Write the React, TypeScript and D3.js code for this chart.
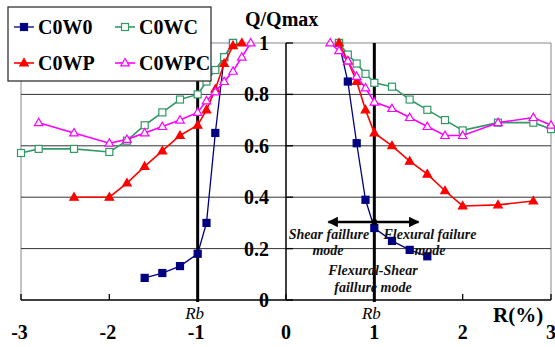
import React from "react";
import * as d3 from "d3";

// ---- data ----
const seriesNames = ["C0W0", "C0WC", "C0WP", "C0WPC"];

const w0LeftR = [-1.6, -1.4, -1.2, -1.0, -0.9, -0.8, -0.7, -0.6];
const w0LeftQ = [0.086, 0.105, 0.132, 0.18, 0.3, 0.65, 0.945, 1.0];
const w0RightR = [0.6, 0.7, 0.8, 0.9, 1.0, 1.2, 1.4, 1.6];
const w0RightQ = [1.0, 0.85, 0.61, 0.39, 0.28, 0.23, 0.195, 0.17];

const wcLeftR = [-3.0, -2.8, -2.4, -2.0, -1.8, -1.6, -1.4, -1.2, -1.0, -0.9, -0.8, -0.7, -0.6];
const wcLeftQ = [0.572, 0.588, 0.588, 0.576, 0.62, 0.68, 0.73, 0.78, 0.8, 0.85, 0.895, 0.945, 1.0];
const wcRightR = [0.6, 0.7, 0.8, 0.9, 1.0, 1.2, 1.4, 1.6, 1.8, 2.0, 2.4, 2.8, 3.0];
const wcRightQ = [1.0, 0.955, 0.92, 0.88, 0.845, 0.83, 0.78, 0.74, 0.7, 0.66, 0.69, 0.69, 0.665];

const wpLeftR = [-2.4, -2.0, -1.8, -1.6, -1.4, -1.2, -1.0, -0.9, -0.8, -0.7, -0.6, -0.5];
const wpLeftQ = [0.4, 0.4, 0.455, 0.52, 0.58, 0.64, 0.68, 0.74, 0.82, 0.92, 0.99, 1.0];
const wpRightR = [0.6, 0.7, 0.8, 0.9, 1.0, 1.2, 1.4, 1.6, 1.8, 2.0, 2.4, 2.8];
const wpRightQ = [1.0, 0.93, 0.85, 0.74, 0.65, 0.6, 0.54, 0.49, 0.425, 0.366, 0.37, 0.385];

const wpcLeftR = [-2.8, -2.4, -2.0, -1.8, -1.6, -1.4, -1.2, -1.0, -0.9, -0.8, -0.7, -0.6, -0.5, -0.4];
const wpcLeftQ = [0.69, 0.65, 0.61, 0.625, 0.65, 0.675, 0.7, 0.73, 0.775, 0.81, 0.85, 0.89, 0.945, 1.0];
const wpcRightR = [0.5, 0.6, 0.7, 0.8, 0.9, 1.0, 1.2, 1.4, 1.6, 1.8, 2.0, 2.4, 2.8, 3.0];
const wpcRightQ = [1.0, 0.97, 0.93, 0.87, 0.825, 0.77, 0.745, 0.71, 0.675, 0.64, 0.64, 0.69, 0.71, 0.68];

const xTicks = [-3, -2, -1, 0, 1, 2, 3];
const yTicks = [0, 0.2, 0.4, 0.6, 0.8, 1];
const rbValues = [-1, 1];

// ---- layout ----
const W = 555;
const H = 347;
const x = d3.scaleLinear().domain([-3, 3]).range([21, 551]);
const y = d3.scaleLinear().domain([0, 1]).range([300, 43]);

const zip = (rs: number[], qs: number[]) => rs.map((r, i) => [r, qs[i]] as [number, number]);

const series = [
  { name: seriesNames[0], color: "#000080", marker: "square", filled: true, width: 1.3, segs: [zip(w0LeftR, w0LeftQ), zip(w0RightR, w0RightQ)] },
  { name: seriesNames[1], color: "#339966", marker: "square", filled: false, width: 1.6, segs: [zip(wcLeftR, wcLeftQ), zip(wcRightR, wcRightQ)] },
  { name: seriesNames[2], color: "#FF0000", marker: "triangle", filled: true, width: 1.6, segs: [zip(wpLeftR, wpLeftQ), zip(wpRightR, wpRightQ)] },
  { name: seriesNames[3], color: "#FF00FF", marker: "triangle", filled: false, width: 1.6, segs: [zip(wpcLeftR, wpcLeftQ), zip(wpcRightR, wpcRightQ)] },
];

const line = d3.line<[number, number]>().x((d) => x(d[0])).y((d) => y(d[1]));

function Marker({ cx, cy, kind, filled, color }: any) {
  const fill = filled ? color : "white";
  if (kind === "square") {
    const s = 7;
    return <rect x={cx - s / 2} y={cy - s / 2} width={s} height={s} fill={fill} stroke={color} strokeWidth={1.2} />;
  }
  const s = 8.5;
  const h = s * 0.87;
  const pts = `${cx},${cy - h * 0.6} ${cx - s / 2},${cy + h * 0.4} ${cx + s / 2},${cy + h * 0.4}`;
  return <polygon points={pts} fill={fill} stroke={color} strokeWidth={1.2} />;
}

const SERIF = '"Liberation Serif", "DejaVu Serif", serif';

export default function App() {
  const plotL = x(-3);
  const plotR = x(3);
  const top = y(1);
  const bottom = y(0);
  const x0 = x(0);
  const arrowY = 222;
  return (
    <svg width={W} height={H} style={{ position: "absolute", left: 0, top: 0, background: "white", fontFamily: SERIF }}>
      <defs>
        <marker id="ah" viewBox="0 0 10 10" refX="9" refY="5" markerWidth="4.2" markerHeight="4.2" orient="auto-start-reverse">
          <path d="M0,0 L10,5 L0,10 z" fill="black" />
        </marker>
      </defs>
      <rect x={0} y={0} width={W} height={H} fill="white" />
      {/* plot border */}
      <line x1={plotL} x2={plotL} y1={top} y2={bottom} stroke="#888" strokeWidth={1} />
      <line x1={plotR} x2={plotR} y1={top} y2={bottom} stroke="#888" strokeWidth={1} />
      <line x1={plotL} x2={plotR} y1={top} y2={top} stroke="#888" strokeWidth={1} />
      {/* gridlines */}
      {yTicks.filter((t) => t > 0 && t < 1).map((t) => (
        <line key={t} x1={plotL} x2={plotR} y1={y(t)} y2={y(t)} stroke="#333" strokeWidth={1} />
      ))}
      {/* x axis */}
      <line x1={plotL} x2={plotR} y1={bottom} y2={bottom} stroke="black" strokeWidth={1.5} />
      {xTicks.map((t) => (
        <line key={t} x1={x(t)} x2={x(t)} y1={bottom} y2={bottom - 6} stroke="black" strokeWidth={1.3} />
      ))}
      {/* y axis */}
      <line x1={x0} x2={x0} y1={top} y2={bottom} stroke="black" strokeWidth={1.5} />
      {yTicks.map((t) => (
        <line key={t} x1={x0} x2={x0 + 7} y1={y(t)} y2={y(t)} stroke="black" strokeWidth={1.3} />
      ))}
      {/* Rb lines */}
      {rbValues.map((r) => (
        <line key={r} x1={x(r)} x2={x(r)} y1={top} y2={bottom + 2} stroke="black" strokeWidth={3} />
      ))}
      {/* series */}
      {series.map((s) => (
        <g key={s.name}>
          {s.segs.map((seg, i) => (
            <path key={i} d={line(seg) || ""} fill="none" stroke={s.color} strokeWidth={s.width} />
          ))}
          {s.segs.flat().map((d, i) => (
            <Marker key={i} cx={x(d[0])} cy={y(d[1])} kind={s.marker} filled={s.filled} color={s.color} />
          ))}
        </g>
      ))}
      {/* double arrow */}
      <line x1={x(0.48)} x2={x(1.5)} y1={arrowY} y2={arrowY} stroke="black" strokeWidth={2.5} markerStart="url(#ah)" markerEnd="url(#ah)" />
      <circle cx={x(1)} cy={arrowY} r={3} fill="black" />
      {/* annotations */}
      <g fontStyle="italic" fontWeight="bold" fontSize={14} fill="#111" style={{ fontFamily: SERIF }}>
        <text x={329} y={239} textAnchor="middle">Shear faillure</text>
        <text x={328} y={255} textAnchor="middle">mode</text>
        <text x={430} y={239} textAnchor="middle">Flexural failure</text>
        <text x={430} y={255} textAnchor="middle">mode</text>
        <text x={373} y={275} textAnchor="middle">Flexural-Shear</text>
        <text x={373} y={292} textAnchor="middle">faillure mode</text>
      </g>
      {/* y tick labels */}
      {yTicks.map((t) => (
        <text key={t} x={269} y={y(t) + 7} textAnchor="end" fontWeight="bold" fontSize={20} style={{ fontFamily: SERIF }}>
          {t === 0 || t === 1 ? String(t) : t.toFixed(1)}
        </text>
      ))}
      {/* x tick labels */}
      {xTicks.map((t) => (
        <text key={t} x={x(t) - (t < 0 ? 1.5 : 0)} y={339} textAnchor="middle" fontWeight="bold" fontSize={20} style={{ fontFamily: SERIF }}>
          {t < 0 ? `-${Math.abs(t)}` : String(t)}
        </text>
      ))}
      {/* Rb labels */}
      {rbValues.map((r) => (
        <text key={r} x={x(r) - 3} y={319} textAnchor="middle" fontStyle="italic" fontSize={17} style={{ fontFamily: SERIF }}>Rb</text>
      ))}
      {/* axis titles */}
      <text x={245} y={26} fontWeight="bold" fontSize={20} style={{ fontFamily: SERIF }}>Q/Qmax</text>
      <text x={493} y={322} fontWeight="bold" fontSize={21} style={{ fontFamily: SERIF }}>R(%)</text>
      {/* legend */}
      <rect x={8} y={7} width={203} height={74} fill="white" stroke="#333" strokeWidth={1.3} />
      {series.map((s, i) => {
        const col = i % 2;
        const row = Math.floor(i / 2);
        const lx = col === 0 ? 14 : 115;
        const ly = row === 0 ? 27 : 63;
        return (
          <g key={s.name}>
            <line x1={lx} x2={lx + 20} y1={ly} y2={ly} stroke={s.color} strokeWidth={s.width} />
            <Marker cx={lx + 10} cy={ly} kind={s.marker} filled={s.filled} color={s.color} />
            <text x={lx + 24} y={ly + 7} fontWeight="bold" fontSize={20} style={{ fontFamily: SERIF }}>{s.name}</text>
          </g>
        );
      })}
    </svg>
  );
}
